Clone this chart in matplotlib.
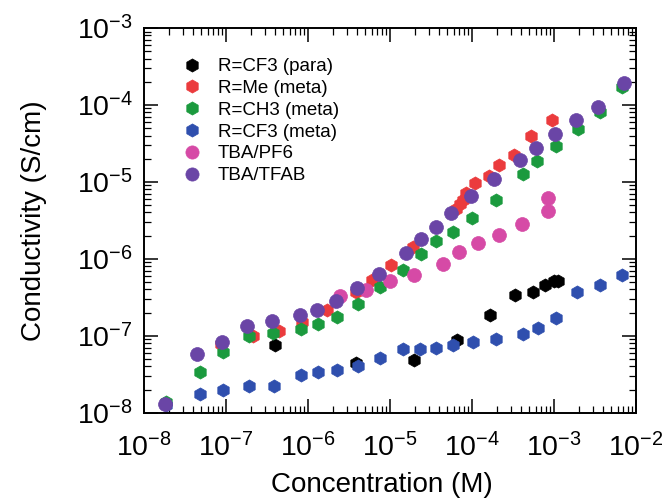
import matplotlib
matplotlib.use("Agg")
import matplotlib.pyplot as plt
from matplotlib.ticker import LogLocator, NullFormatter

plt.rcParams["font.family"] = ["Liberation Sans", "DejaVu Sans"]
plt.rcParams["mathtext.fontset"] = "custom"
plt.rcParams["mathtext.rm"] = "Liberation Sans"
plt.rcParams["mathtext.it"] = "Liberation Sans:italic"
plt.rcParams["mathtext.bf"] = "Liberation Sans:bold"
plt.rcParams["axes.unicode_minus"] = False

# R=CF3 (para)
cf3_para_x = [4.0e-7, 3.9e-6, 1.96e-5, 6.6e-5, 1.65e-4, 3.33e-4, 5.58e-4, 7.83e-4, 1.0e-3, 1.12e-3]
cf3_para_y = [7.5e-8, 4.4e-8, 4.9e-8, 8.7e-8, 1.84e-7, 3.38e-7, 3.73e-7, 4.63e-7, 5.2e-7, 5.1e-7]

# R=Me (meta)
me_meta_x = [8.66e-8, 2.15e-7, 4.39e-7, 8.4e-7, 1.71e-6, 3.87e-6, 6.08e-6, 1.04e-5, 1.9e-5,
             6.34e-5, 7.1e-5, 7.78e-5, 8.57e-5, 1.1e-4, 1.62e-4, 2.14e-4, 3.21e-4, 5.28e-4, 9.37e-4]
me_meta_y = [7.7e-8, 9.86e-8, 1.17e-7, 1.53e-7, 2.16e-7, 3.66e-7, 5.29e-7, 8.4e-7, 1.44e-6,
             4.42e-6, 5.13e-6, 5.9e-6, 7.18e-6, 9.7e-6, 1.2e-5, 1.64e-5, 2.25e-5, 3.89e-5, 6.32e-5]

# R=CH3 (meta)
ch3_meta_x = [1.87e-8, 4.84e-8, 9.3e-8, 1.9e-7, 3.78e-7, 8.2e-7, 1.33e-6, 2.27e-6, 4.1e-6, 7.5e-6,
              1.45e-5, 2.36e-5, 3.6e-5, 5.87e-5, 1.01e-4, 1.94e-4, 4.14e-4, 6.25e-4, 1.06e-3,
              1.95e-3, 3.65e-3, 6.84e-3]
ch3_meta_y = [1.36e-8, 3.34e-8, 6.07e-8, 9.8e-8, 1.08e-7, 1.24e-7, 1.43e-7, 1.77e-7, 2.59e-7, 4.24e-7,
              7.25e-7, 1.15e-6, 1.69e-6, 2.25e-6, 3.35e-6, 5.9e-6, 1.27e-5, 1.89e-5, 2.97e-5,
              4.83e-5, 8.2e-5, 1.73e-4]

# R=CF3 (meta)
cf3_meta_x = [1.84e-8, 4.8e-8, 9.3e-8, 1.9e-7, 3.81e-7, 8.2e-7, 1.33e-6, 2.27e-6, 4.1e-6, 7.6e-6,
              1.45e-5, 2.32e-5, 3.68e-5, 5.87e-5, 1.02e-4, 1.94e-4, 4.14e-4, 6.32e-4, 1.05e-3,
              1.93e-3, 3.68e-3, 6.78e-3]
cf3_meta_y = [1.25e-8, 1.73e-8, 2.0e-8, 2.2e-8, 2.22e-8, 3.06e-8, 3.34e-8, 3.62e-8, 4.1e-8, 5.2e-8,
              6.7e-8, 6.8e-8, 7.0e-8, 7.5e-8, 8.2e-8, 9.2e-8, 1.04e-7, 1.25e-7, 1.68e-7,
              3.66e-7, 4.55e-7, 6.19e-7]

# TBA/PF6
pf6_x = [2.47e-6, 5.03e-6, 9.9e-6, 1.96e-5, 4.44e-5, 6.95e-5, 1.19e-4, 2.14e-4, 4.03e-4, 8.37e-4, 8.5e-4]
pf6_y = [3.31e-7, 3.96e-7, 5.18e-7, 6.14e-7, 8.5e-7, 1.23e-6, 1.62e-6, 2.02e-6, 2.8e-6, 4.17e-6, 6.2e-6]

# TBA/TFAB
tfab_x = [1.8e-8, 4.48e-8, 8.9e-8, 1.82e-7, 3.64e-7, 8.0e-7, 1.28e-6, 2.2e-6, 3.94e-6, 7.31e-6,
          1.55e-5, 2.41e-5, 3.6e-5, 5.5e-5, 9.86e-5, 1.85e-4, 3.84e-4, 6.03e-4, 1.02e-3,
          1.84e-3, 3.45e-3, 7.24e-3]
tfab_y = [1.29e-8, 5.77e-8, 8.34e-8, 1.34e-7, 1.54e-7, 1.88e-7, 2.18e-7, 2.85e-7, 4.12e-7, 6.44e-7,
          1.2e-6, 1.79e-6, 2.61e-6, 3.93e-6, 6.65e-6, 1.09e-5, 1.94e-5, 2.75e-5, 4.17e-5,
          6.32e-5, 9.5e-5, 1.9e-4]

series = [
    ("R=CF3 (para)", cf3_para_x, cf3_para_y, "#000000", "h", 9.5),
    ("R=Me (meta)", me_meta_x, me_meta_y, "#eb3b3d", "h", 9.5),
    ("R=CH3 (meta)", ch3_meta_x, ch3_meta_y, "#1b9a3e", "h", 9.5),
    ("R=CF3 (meta)", cf3_meta_x, cf3_meta_y, "#2f4fae", "h", 9.5),
    ("TBA/PF6", pf6_x, pf6_y, "#d64aa6", "o", 10.0),
    ("TBA/TFAB", tfab_x, tfab_y, "#6a45a6", "o", 10.0),
]

fig = plt.figure(figsize=(6.64, 5.0), dpi=100)
ax = fig.add_axes([0.2169, 0.1746, 0.7409, 0.7694])

for label, xs, ys, color, marker, ms in series:
    ax.plot(xs, ys, linestyle="none", marker=marker, markersize=ms,
            markerfacecolor=color, markeredgecolor=color, markeredgewidth=0.5,
            label=label)

ax.set_xscale("log")
ax.set_yscale("log")
ax.set_xlim(1e-8, 1e-2)
ax.set_ylim(1e-8, 1e-3)

for axis in (ax.xaxis, ax.yaxis):
    axis.set_major_locator(LogLocator(base=10, numticks=20))
    axis.set_minor_locator(LogLocator(base=10, subs=range(2, 10), numticks=20))
    axis.set_minor_formatter(NullFormatter())

ax.tick_params(which="both", direction="in", top=True, right=True, color="black")
ax.tick_params(which="major", length=10, width=1.1, labelsize=20.5)
ax.tick_params(axis="x", which="major", pad=15)
ax.tick_params(axis="y", which="major", pad=8)
ax.tick_params(which="minor", length=5, width=0.9)
for sp in ax.spines.values():
    sp.set_linewidth(1.4)

ax.set_xlabel("Concentration (M)", fontsize=20)
ax.set_ylabel("Conductivity (S/cm)", fontsize=20)
ax.xaxis.set_label_coords(0.484, -0.155)
ax.yaxis.set_label_coords(-0.198, 0.5)

legend_handles, legend_labels = ax.get_legend_handles_labels()
leg = ax.legend(legend_handles, legend_labels, loc="upper left",
                bbox_to_anchor=(0.078, 0.922), frameon=False,
                fontsize=13.5, handlelength=1.0, handletextpad=0.9, labelspacing=0.25,
                borderpad=0, borderaxespad=0, numpoints=1, markerscale=1.0)
for h in leg.legend_handles:
    h.set_markersize(9.5)

fig.savefig("out.png", dpi=100)
